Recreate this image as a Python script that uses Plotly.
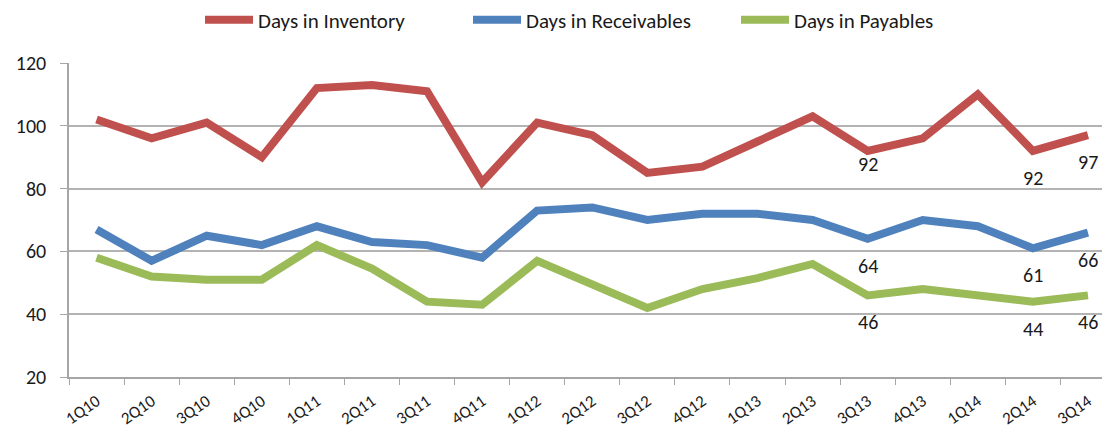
import plotly.graph_objects as go

quarters = ["1Q10", "2Q10", "3Q10", "4Q10", "1Q11", "2Q11", "3Q11", "4Q11", "1Q12", "2Q12",
            "3Q12", "4Q12", "1Q13", "2Q13", "3Q13", "4Q13", "1Q14", "2Q14", "3Q14"]
inventory = [102, 96, 101, 90, 112, 113, 111, 82, 101, 97, 85, 87, 95, 103, 92, 96, 110, 92, 97]
receivables = [67, 57, 65, 62, 68, 63, 62, 58, 73, 74, 70, 72, 72, 70, 64, 70, 68, 61, 66]
payables = [58, 52, 51, 51, 62, 54.5, 44, 43, 57, 49.5, 42, 48, 51.5, 56, 46, 48, 46, 44, 46]

labeled_quarters = ["3Q13", "2Q14", "3Q14"]

series = [
    ("Days in Inventory", inventory, "#C0504D", [-13, -27, -27]),
    ("Days in Receivables", receivables, "#4F81BD", [-27, -27, -27]),
    ("Days in Payables", payables, "#9BBB59", [-27, -27, -27]),
]

FONT = "Carlito, Calibri, Lato, sans-serif"

# the page body has a default 8px margin; the figure is sized to fit the window
W, H = 1102, 425

fig = go.Figure()
annotations = []
for name, vals, color, shifts in series:
    fig.add_trace(go.Scatter(x=quarters, y=vals, name=name, mode="lines",
                             line=dict(color=color, width=8)))
    for q, s in zip(labeled_quarters, shifts):
        v = vals[quarters.index(q)]
        annotations.append(dict(x=q, y=v, text=f"{v:g}", showarrow=False, yshift=s,
                                font=dict(size=20, color="#1a1a1a", family=FONT)))

fig.update_layout(
    width=W, height=H,
    margin=dict(l=61, r=0, t=55, b=56),
    paper_bgcolor="white", plot_bgcolor="white",
    font=dict(family=FONT, size=16, color="#1a1a1a"),
    legend=dict(orientation="h", xref="container", x=192 / W, xanchor="left",
                yref="container", y=1 - 12 / H, yanchor="middle",
                font=dict(size=21), itemwidth=48,
                entrywidth=205, entrywidthmode="pixels"),
    annotations=annotations,
    showlegend=True,
)
fig.update_xaxes(type="category", range=[-0.5, 18.4], showgrid=False, automargin=False,
                 showline=True, linecolor="#A6A6A6", linewidth=1.5,
                 ticks="outside", tickson="boundaries", ticklen=6, tickcolor="#A6A6A6",
                 tickangle=-35, ticklabelstandoff=6, tickfont=dict(size=17, color="#1a1a1a"))
fig.update_yaxes(range=[20, 120], dtick=20, showgrid=True, gridcolor="#B3B3B3", gridwidth=1.5,
                 showline=True, linecolor="#A6A6A6", linewidth=1.5, automargin=False,
                 ticks="outside", ticklen=7, tickcolor="#A6A6A6", zeroline=False,
                 ticklabelstandoff=10, tickfont=dict(size=20, color="#1a1a1a"))

fig.write_html("out.html")
